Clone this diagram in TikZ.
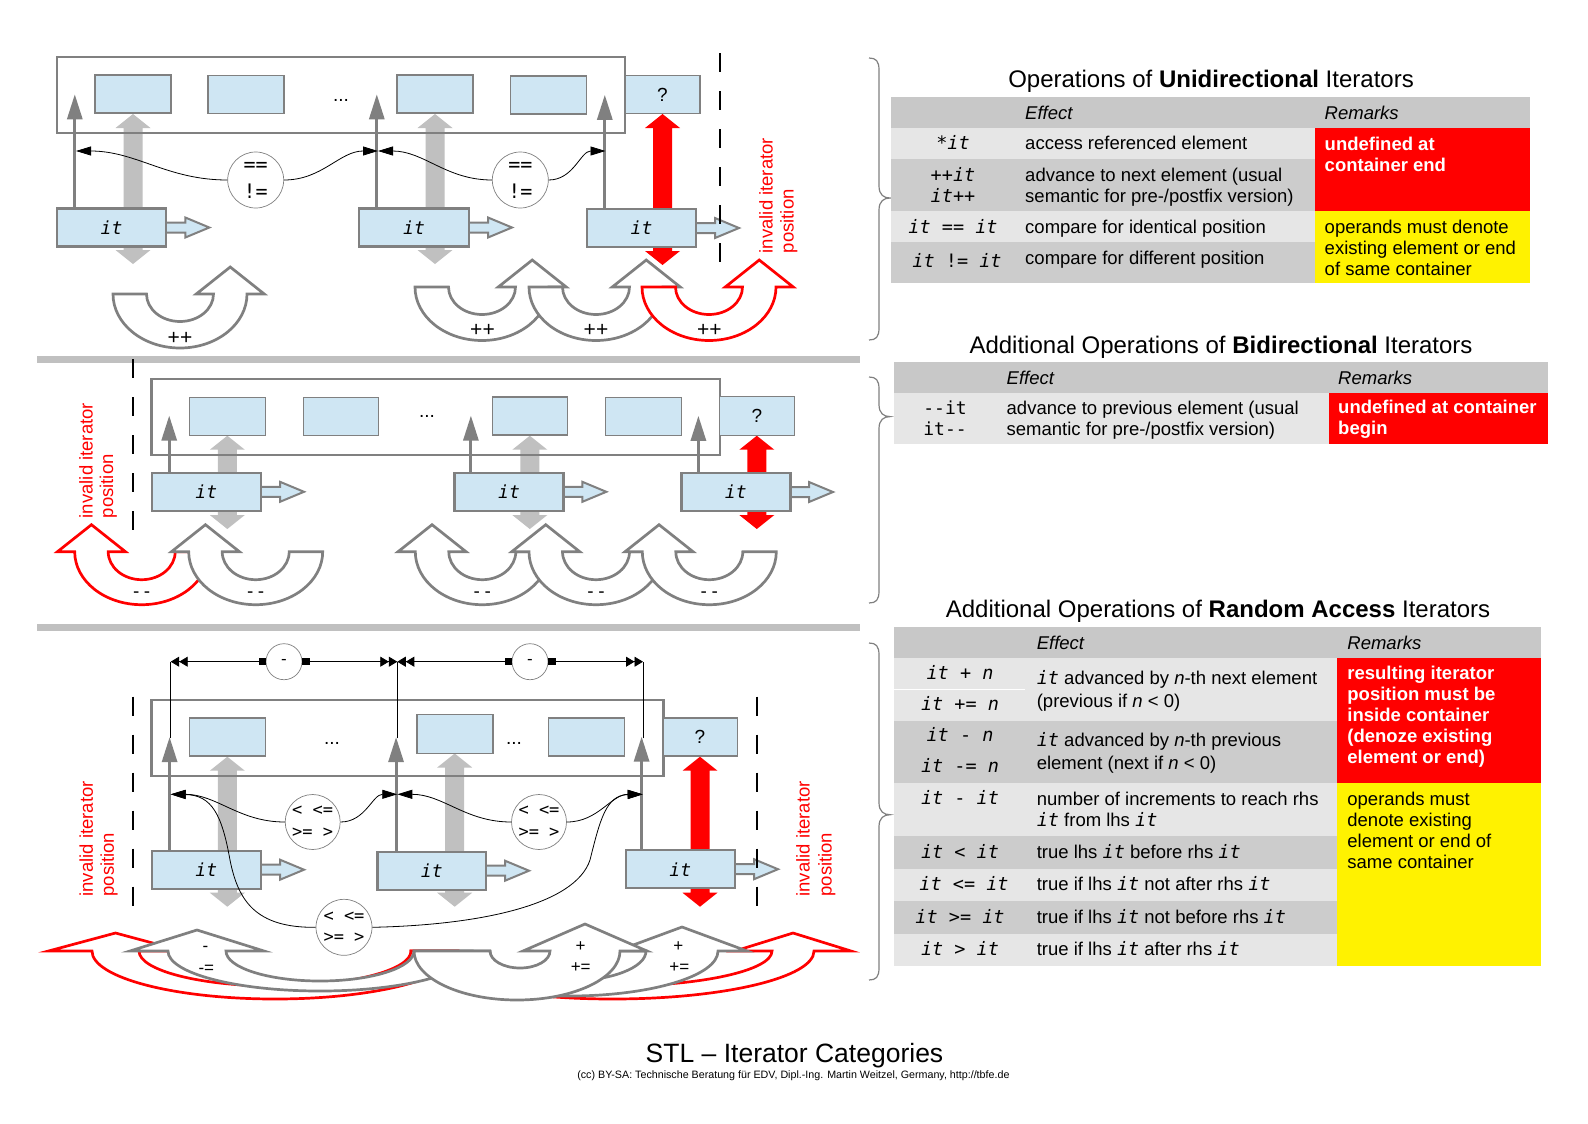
\documentclass[tikz,border=0pt]{standalone}
\usepackage{fontspec}
\setmainfont{Liberation Sans}
\newfontfamily\mono{DejaVu Sans Mono}[ItalicFont={DejaVu Sans Mono Oblique},Ligatures=TeXOff]
\usetikzlibrary{arrows.meta}
\definecolor{ltblue}{RGB}{207,230,243}
\definecolor{bgray}{RGB}{128,128,128}
\definecolor{lgray}{RGB}{192,192,192}
\definecolor{hdr}{RGB}{200,200,200}
\definecolor{rowd}{RGB}{204,204,204}
\definecolor{rowl}{RGB}{230,230,230}
\newcommand\fs[1]{\fontsize{#1bp}{#1bp}\selectfont}
\newcommand\cit{{\mono\itshape it}}
\newcommand\dblarr[4]{%
  \fill[#1] (#2,#3) -- (#2+17.5,#3+14) -- (#2+9.5,#3+14) -- (#2+9.5,#4-14) -- (#2+17.5,#4-14) -- (#2,#4)
   -- (#2-17.5,#4-14) -- (#2-9.5,#4-14) -- (#2-9.5,#3+14) -- (#2-17.5,#3+14) -- cycle;}
\newcommand\holarr[3]{%
  \filldraw[hol] (#1,#3-5) -- (#2-24,#3-5) -- (#2-24,#3-10) -- (#2,#3) -- (#2-24,#3+10) -- (#2-24,#3+5) -- (#1,#3+5);}
\def\uHH{27}
\newcommand\Uarr[9]{%
  \pgfmathsetmacro\uMi{((#3)+(#4))/2}\pgfmathsetmacro\uHi{((#4)-(#3))/2*0.5523}%
  \pgfmathsetmacro\uMo{((#2)+(#5))/2}\pgfmathsetmacro\uHo{((#2)-(#5))/2*0.5523}%
  \pgfmathsetmacro\uHc{((#4)+(#5))/2}\pgfmathsetmacro\uS{sign((#5)-(#4))}%
  \pgfmathsetmacro\uHa{\uHc-\uS*(#9)}\pgfmathsetmacro\uHb{\uHc+\uS*(#9)}%
  \pgfmathsetmacro\uKi{#6+0.5523*(#7)}\pgfmathsetmacro\uKo{#6+0.5523*(#8)}%
  \pgfmathsetmacro\uYi{#6+(#7)}\pgfmathsetmacro\uYo{#6+(#8)}\pgfmathsetmacro\uYt{#6-\uHH}%
  \filldraw[#1] (#2,#6) -- (#3,#6)
   .. controls (#3,\uKi) and (\uMi-\uHi,\uYi) .. (\uMi,\uYi)
   .. controls (\uMi+\uHi,\uYi) and (#4,\uKi) .. (#4,#6)
   -- (\uHa,#6) -- (\uHc,\uYt) -- (\uHb,#6) -- (#5,#6)
   .. controls (#5,\uKo) and (\uMo-\uHo,\uYo) .. (\uMo,\uYo)
   .. controls (\uMo+\uHo,\uYo) and (#2,\uKo) .. (#2,#6) -- cycle;}
\newcommand\brc[3]{%
  \draw[bgray, line width=1.2bp] (869,#1) .. controls (876,#1) and (879,#1+3) .. (879,#1+12) -- (879,#2-12)
   .. controls (879,#2-3) and (884,#2) .. (890,#2) .. controls (884,#2) and (879,#2+3) .. (879,#2+12)
   -- (879,#3-12) .. controls (879,#3-3) and (876,#3) .. (869,#3);}
\tikzset{
  elem/.style={draw=bgray, line width=1.6bp, fill=ltblue, inner sep=0pt, minimum width=76bp, minimum height=38bp, font=\fs{19}},
  cont/.style={draw=bgray, line width=2.4bp, inner sep=0pt},
  itbox/.style={draw=bgray, line width=2.4bp, fill=ltblue, inner sep=0pt, minimum width=109bp, minimum height=38bp, font=\mono\itshape\fs{18}},
  upar/.style={draw=bgray, line width=3bp, -{Triangle[length=25bp,width=15bp]}},
  curv/.style={draw=black, line width=0.8bp, -{Triangle[length=15bp,width=9bp]}},
  opc/.style={circle, draw=bgray, line width=0.7bp, fill=white, inner sep=0pt, minimum size=56bp, align=center},
  hol/.style={draw=bgray, line width=2bp, fill=ltblue},
  ugray/.style={draw=bgray, line width=2.7bp, fill=white},
  ured/.style={draw=red, line width=2.7bp, fill=white},
  dsh/.style={draw=black, line width=2.2bp, dash pattern=on 19bp off 19bp},
  inv/.style={text=red, font=\fs{18.5}, rotate=90, anchor=mid west, inner sep=0pt},
  lbl/.style={inner sep=0pt, anchor=mid, yshift=-5bp},
  tx/.style={inner sep=0pt, anchor=mid west, font=\fs{18.5}, yshift=-4bp},
  txi/.style={inner sep=0pt, anchor=mid west, font=\fs{18.5}\itshape, yshift=-4bp},
  rt/.style={inner sep=0pt, anchor=mid west, text=white, font=\fs{18.5}\bfseries, yshift=-3bp},
  cc/.style={inner sep=0pt, anchor=mid, font=\mono\fs{18.5}, yshift=-4bp},
  ttl/.style={inner sep=0pt, anchor=mid, font=\fs{24}, yshift=-6bp},
  dim/.style={draw=black, line width=0.8bp, {Square[length=7bp,width=7bp]}-{Triangle[length=8.5bp,width=10bp]Triangle[length=8.5bp,width=10bp]}},
}
\begin{document}
\begin{tikzpicture}[x=1bp,y=-1bp]
\fill[white] (0,0) rectangle (1588,1123);
\useasboundingbox (0,0) rectangle (1588,1123);
% separators
\fill[lgray] (37,356) rectangle (860,362.7);
\fill[lgray] (37,624) rectangle (860,630.7);
% ================= TOP PANEL =================
\dblarr{lgray}{133}{114}{264}
\dblarr{lgray}{435}{114}{264}
\dblarr{red}{662.5}{114}{265}
\node[cont, minimum width=568bp, minimum height=76bp] (ct1) at (341,95) {};
\node[elem] (a1) at (133,94) {};
\node[elem] (a2) at (246,94.5) {};
\node[elem] (a3) at (435,94) {};
\node[elem] (a4) at (548.5,95) {};
\node[elem, minimum width=75bp] (aq) at (662.5,94.5) {?};
\node[lbl, font=\fs{19}, yshift=3bp] (ad) at (341,97) {...};
\holarr{164}{209.3}{227.5}
\holarr{467}{512}{227.5}
\holarr{694}{739}{228}
\node[itbox] (ai1) at (111.5,227.5) {it};
\node[itbox, minimum width=110bp] (ai2) at (414,227.5) {it};
\node[itbox] (ai3) at (641.5,228) {it};
\draw[upar] ([xshift=19bp]ai1.north west) -- ++(0,-113);
\draw[upar] ([xshift=19bp]ai2.north west) -- ++(0,-113);
\draw[upar] ([xshift=19bp]ai3.north west) -- ++(0,-113);
\coordinate (ap1) at (76,151);
\coordinate (ap2) at (378,151);
\coordinate (ap3) at (605.5,151);
\node[opc, font=\mono\fontsize{20bp}{27bp}\selectfont] (ac1) at (255.7,180) {==\\!=};
\node[opc, font=\mono\fontsize{20bp}{27bp}\selectfont] (ac2) at (520.3,180) {==\\!=};
\draw[curv] (ac1.west) to[out=180,in=0] (ap1);
\draw[curv] (ac1.east) to[out=0,in=180] (ap2);
\draw[curv] (ac2.west) to[out=180,in=0] (ap2);
\draw[curv] (ac2.east) to[out=0,in=180] (ap3);
\draw[dsh] (720,53) -- (720,267);
\node[inv] (av1) at (770,253.3) {invalid iterator};
\node[inv] (av2) at (791,253.3) {position};
\def\uHH{27}
\Uarr{ugray}{113}{146.5}{213.5}{247}{294}{27.5}{54}{34}
\Uarr{ugray}{415}{448.5}{515.5}{549}{287}{27.5}{53.5}{34}
\Uarr{ugray}{529}{562.5}{629.5}{663}{287}{27.5}{53.5}{34}
\Uarr{ured}{642}{675.5}{742.5}{776}{287}{27.5}{53.5}{34}
\node[lbl, font=\fs{21}, yshift=-3bp] (au1) at (180,334) {++};
\node[lbl, font=\fs{21}, yshift=-3bp] (au2) at (482.5,326) {++};
\node[lbl, font=\fs{21}, yshift=-3bp] (au3) at (596,326) {++};
\node[lbl, font=\fs{21}, yshift=-3bp] (au4) at (709.3,326) {++};
% ================= MIDDLE PANEL =================
\dblarr{lgray}{227.3}{435.7}{529}
\dblarr{lgray}{529.8}{435.7}{529}
\dblarr{red}{756.8}{435.7}{529}
\node[cont, minimum width=568.3bp, minimum height=76bp] (ct2) at (435.85,417) {};
\node[elem] (b1) at (227.3,416.3) {};
\node[elem, minimum width=75bp] (b2) at (340.8,416.3) {};
\node[elem, minimum width=75bp] (b3) at (529.8,416.2) {};
\node[elem] (b4) at (643.3,416.3) {};
\node[elem, minimum width=75bp, minimum height=39bp] (bq) at (756.8,415.8) {?};
\node[lbl, font=\fs{19}, yshift=3bp] (bd) at (427,413) {...};
\holarr{259}{304}{491.8}
\holarr{561}{606.3}{491.8}
\holarr{788}{833}{492}
\node[itbox] (bi1) at (206.3,491.8) {it};
\node[itbox] (bi2) at (509,491.8) {it};
\node[itbox] (bi3) at (735.8,492) {it};
\draw[upar] ([xshift=18.6bp]bi1.north west) -- ++(0,-56);
\draw[upar] ([xshift=17.6bp]bi2.north west) -- ++(0,-56);
\draw[upar] ([xshift=18.3bp]bi3.north west) -- ++(0,-56);
\draw[dsh] (132.7,359) -- (132.7,530);
\node[inv] (bv1) at (90,518.3) {invalid iterator};
\node[inv] (bv2) at (110.5,518.3) {position};
\def\uHH{27}
\Uarr{ured}{208.7}{175.2}{108.2}{74.7}{551.7}{28}{53}{34}
\Uarr{ugray}{322.7}{289.2}{222.2}{188.7}{551.7}{28}{53}{34}
\Uarr{ugray}{549.3}{515.8}{448.8}{415.3}{551.7}{28}{53}{34}
\Uarr{ugray}{663}{629.5}{562.5}{529}{551.7}{28}{53}{34}
\Uarr{ugray}{776.3}{742.8}{675.8}{642.3}{551.7}{28}{53}{34}
\node[lbl, font=\mono\fs{18}] (bu1) at (141.7,590) {--};
\node[lbl, font=\mono\fs{18}] (bu2) at (255.7,590) {--};
\node[lbl, font=\mono\fs{18}] (bu3) at (482.3,590) {--};
\node[lbl, font=\mono\fs{18}] (bu4) at (596,590) {--};
\node[lbl, font=\mono\fs{18}] (bu5) at (709.3,590) {--};
% ================= BOTTOM PANEL =================
\dblarr{lgray}{227.3}{756.7}{906.7}
\dblarr{lgray}{454.7}{753.5}{906.7}
\dblarr{red}{700}{756.7}{906.7}
\node[cont, minimum width=511.6bp, minimum height=75.7bp] (ct3) at (407.5,737.85) {};
\node[elem] (c1) at (227.3,736.7) {};
\node[elem, minimum height=39bp] (c2) at (454.7,733.8) {};
\node[elem] (c3) at (586.3,736.7) {};
\node[elem, minimum width=74.6bp] (cq) at (700,736.7) {?};
\node[lbl, font=\fs{19}, yshift=3bp] (cd1) at (332,740) {...};
\node[lbl, font=\fs{19}, yshift=3bp] (cd2) at (514,740) {...};
\holarr{259}{304}{869.7}
\holarr{484}{529}{870.7}
\holarr{733}{778}{869.2}
\node[itbox] (ci1) at (206.3,869.7) {it};
\node[itbox, minimum width=108.3bp] (ci2) at (431.8,870.7) {it};
\node[itbox] (ci3) at (680.3,869.2) {it};
\draw[upar] ([xshift=19bp]ci1.north west) -- ++(0,-112.4);
\draw[upar] ([xshift=19.6bp]ci2.north west) -- ++(0,-113.4);
\draw[upar] ([xshift=17bp]ci3.north west) -- ++(0,-112.4);
% dimension lines
\coordinate (cp1) at (170.7,661.7);
\coordinate (cp2) at (397.3,661.7);
\coordinate (cp3) at (643,661.7);
\draw[line width=0.8bp] (170.7,738.3) -- (cp1);
\draw[line width=0.8bp] (397.3,738.3) -- (cp2);
\draw[line width=0.8bp] (643,738.3) -- (cp3);
\node[opc, minimum size=36bp, font=\mono\fs{16}] (cm1) at (284,661.7) {-};
\node[opc, minimum size=36bp, font=\mono\fs{16}] (cm2) at (530,661.7) {-};
\draw[dim] (cm1.west) -- (cp1);
\draw[dim] (cm1.east) -- (cp2);
\draw[dim] (cm2.west) -- (cp2);
\draw[dim] (cm2.east) -- (cp3);
% compare curves
\coordinate (cq1) at (170.7,794.3);
\coordinate (cq2) at (397.3,794.3);
\coordinate (cq3) at (642.7,794.3);
\node[opc, minimum size=55bp, font=\mono\fontsize{17bp}{21.7bp}\selectfont] (cc1) at (312.7,822) {<~<=\\>=~>};
\node[opc, minimum size=55bp, font=\mono\fontsize{17bp}{21.7bp}\selectfont] (cc2) at (539,822) {<~<=\\>=~>};
\node[opc, minimum size=56bp, font=\mono\fontsize{17bp}{21.7bp}\selectfont] (cc3) at (344,927.3) {<~<=\\>=~>};
\draw[curv] (cc1.west) to[out=180,in=0] (cq1);
\draw[curv] (cc1.east) to[out=0,in=180] (cq2);
\draw[curv] (cc2.west) to[out=180,in=0] (cq2);
\draw[curv] (cc2.east) to[out=0,in=180] (cq3);
\draw[curv] (cc3.west) .. controls (255,928) and (238,900) .. (230,860) .. controls (222,815) and (212,795) .. (cq1);
\draw[curv] (cc3.east) .. controls (480,925) and (575,905) .. (590,860) .. controls (600,820) and (606,795) .. (cq3);
\draw[dsh] (132.7,696.7) -- (132.7,908.3);
\draw[dsh] (756.7,696.7) -- (756.7,908.3);
\node[inv] (cv1) at (90.3,896.7) {invalid iterator};
\node[inv] (cv2) at (111.3,896.7) {position};
\node[inv] (cv3) at (807,896.7) {invalid iterator};
\node[inv] (cv4) at (829,896.7) {position};
% bottom jumps
\def\uHH{18}
\Uarr{ured}{411}{458}{772}{814}{951}{35}{48}{58}
\Uarr{ured}{458}{411}{139}{92}{951}{35}{48}{67}
\def\uHH{21}
\Uarr{ugray}{472}{414}{226}{168}{951}{30}{40}{67}
\def\uHH{24}
\Uarr{ugray}{420}{490}{646}{718}{951}{30}{45}{65}
\def\uHH{27}
\Uarr{ugray}{414}{490}{550}{620}{951}{17}{49}{62}
\node[lbl, font=\fs{17}] (cj1) at (205.5,944) {-};
\node[lbl, font=\fs{17}] (cj2) at (206.3,965.5) {-=};
\node[lbl, font=\fs{17}] (cj3) at (580.7,944) {+};
\node[lbl, font=\fs{17}] (cj4) at (580.7,965) {+=};
\node[lbl, font=\fs{17}] (cj5) at (678.3,944) {+};
\node[lbl, font=\fs{17}] (cj6) at (679.3,965) {+=};
% braces
\brc{58}{198}{340}
\brc{377}{416.6}{603}
\brc{643}{814.7}{980}
% ================= TABLE 1 =================
\fill[hdr] (891,97.3) rectangle (1530,127.7);
\fill[rowl] (891,127.7) rectangle (1315.3,159);
\fill[rowd] (891,159) rectangle (1315.3,211);
\fill[rowl] (891,211) rectangle (1315.3,241.7);
\fill[rowd] (891,241.7) rectangle (1315.3,283.3);
\fill[red] (1315.3,127.7) rectangle (1530,211);
\fill[yellow] (1315.3,211) rectangle (1530,283.3);
\node[ttl] (T1) at (1211,79) {Operations of \textbf{Unidirectional} Iterators};
\node[txi] (T1h1) at (1025,113.3) {Effect};
\node[txi] (T1h2) at (1324.5,113.3) {Remarks};
\node[cc] (T1c1) at (953,143.3) {*\textit{it}};
\node[cc] (T1c2) at (953,175) {++\textit{it}};
\node[cc] (T1c3) at (953,196) {\textit{it}++};
\node[cc] (T1c4) at (953,226.7) {\textit{it} == \textit{it}};
\node[cc] (T1c5) at (957,260.5) {\textit{it} != \textit{it}};
\node[tx] (T1e1) at (1025,143.3) {access referenced element};
\node[tx] (T1e2) at (1025,175) {advance to next element (usual};
\node[tx] (T1e3) at (1025,196) {semantic for pre-/postfix version)};
\node[tx] (T1e4) at (1025,226.7) {compare for identical position};
\node[tx] (T1e5) at (1025,258.3) {compare for different position};
\node[rt] (T1r1) at (1324.5,144.5) {undefined at};
\node[rt] (T1r2) at (1324.5,165.5) {container end};
\node[tx] (T1y1) at (1324.5,226.7) {operands must denote};
\node[tx] (T1y2) at (1324.5,248) {existing element or end};
\node[tx] (T1y3) at (1324.5,269.3) {of same container};
% ================= TABLE 2 =================
\fill[hdr] (894,361.7) rectangle (1547.6,392.7);
\fill[rowl] (894,392.7) rectangle (1328.7,444);
\fill[red] (1328.7,392.7) rectangle (1547.6,444);
\node[ttl] (T2) at (1221,344.5) {Additional Operations of \textbf{Bidirectional} Iterators};
\node[txi] (T2h1) at (1006.5,378.3) {Effect};
\node[txi] (T2h2) at (1338,378.3) {Remarks};
\node[cc, font=\mono\fs{18}] (T2c1) at (945,408.3) {--it};
\node[cc, font=\mono\fs{18}] (T2c2) at (945,429.3) {it--};
\node[tx] (T2e1) at (1006.5,408.3) {advance to previous element (usual};
\node[tx] (T2e2) at (1006.5,429.3) {semantic for pre-/postfix version)};
\node[rt] (T2r1) at (1338,408.3) {undefined at container};
\node[rt] (T2r2) at (1338,429.3) {begin};
% ================= TABLE 3 =================
\fill[hdr] (894,627.3) rectangle (1541,657.7);
\fill[rowl] (894,657.7) rectangle (1337,721);
\fill[rowd] (894,721) rectangle (1337,782.7);
\fill[rowl] (894,782.7) rectangle (1337,836);
\fill[rowd] (894,836) rectangle (1337,868.7);
\fill[rowl] (894,868.7) rectangle (1337,901);
\fill[rowd] (894,901) rectangle (1337,934);
\fill[rowl] (894,934) rectangle (1337,966);
\draw[white, line width=1.5bp] (894,689.3) -- (1025,689.3);
\fill[red] (1337,657.7) rectangle (1541,782.7);
\fill[yellow] (1337,782.7) rectangle (1541,966);
\node[ttl] (T3) at (1218,609) {Additional Operations of \textbf{Random Access} Iterators};
\node[txi] (T3h1) at (1036.6,643.3) {Effect};
\node[txi] (T3h2) at (1347.2,643.3) {Remarks};
\node[cc] (T3c1) at (960,673.3) {\textit{it} + \textit{n}};
\node[cc] (T3c2) at (960,704.3) {\textit{it} += \textit{n}};
\node[cc] (T3c3) at (960,735) {\textit{it} - \textit{n}};
\node[cc] (T3c4) at (960,765.7) {\textit{it} -= \textit{n}};
\node[cc] (T3c5) at (960,798.3) {\textit{it} - \textit{it}};
\node[cc] (T3c6) at (960,851.7) {\textit{it} < \textit{it}};
\node[cc] (T3c7) at (964,884.3) {\textit{it} <= \textit{it}};
\node[cc] (T3c8) at (960,916.7) {\textit{it} >= \textit{it}};
\node[cc] (T3c9) at (960,949.3) {\textit{it} > \textit{it}};
\node[tx] (T3e1) at (1036.6,678.3) {\cit{} advanced by \textit{n}-th next element};
\node[tx] (T3e2) at (1036.6,701) {(previous if \textit{n} < 0)};
\node[tx] (T3e3) at (1036.6,740) {\cit{} advanced by \textit{n}-th previous};
\node[tx] (T3e4) at (1036.6,762.7) {element (next if \textit{n} < 0)};
\node[tx] (T3e5) at (1036.6,799.3) {number of increments to reach rhs};
\node[tx] (T3e6) at (1036.6,820) {\cit{} from lhs \cit};
\node[tx] (T3e7) at (1036.6,851.7) {true lhs \cit{} before rhs \cit};
\node[tx] (T3e8) at (1036.6,884.3) {true if lhs \cit{} not after rhs \cit};
\node[tx] (T3e9) at (1036.6,916.7) {true if lhs \cit{} not before rhs \cit};
\node[tx] (T3e10) at (1036.6,949.3) {true if lhs \cit{} after rhs \cit};
\node[rt] (T3r1) at (1347.2,674.3) {resulting iterator};
\node[rt] (T3r2) at (1347.2,695) {position must be};
\node[rt] (T3r3) at (1347.2,716) {inside container};
\node[rt] (T3r4) at (1347.2,736.7) {(denoze existing};
\node[rt] (T3r5) at (1347.2,757.7) {element or end)};
\node[tx] (T3y1) at (1347.2,799.3) {operands must};
\node[tx] (T3y2) at (1347.2,820) {denote existing};
\node[tx] (T3y3) at (1347.2,841) {element or end of};
\node[tx] (T3y4) at (1347.2,861.7) {same container};
% ================= FOOTER =================
\node[lbl, font=\fs{26.5}, yshift=-3bp] (F1) at (794.5,1052) {STL – Iterator Categories};
\node[lbl, font=\fs{10.7}, yshift=2bp] (F2) at (793.4,1073) {(cc) BY-SA: Technische Beratung für EDV, Dipl.-Ing. Martin Weitzel, Germany, http://tbfe.de};
\end{tikzpicture}
\end{document}
